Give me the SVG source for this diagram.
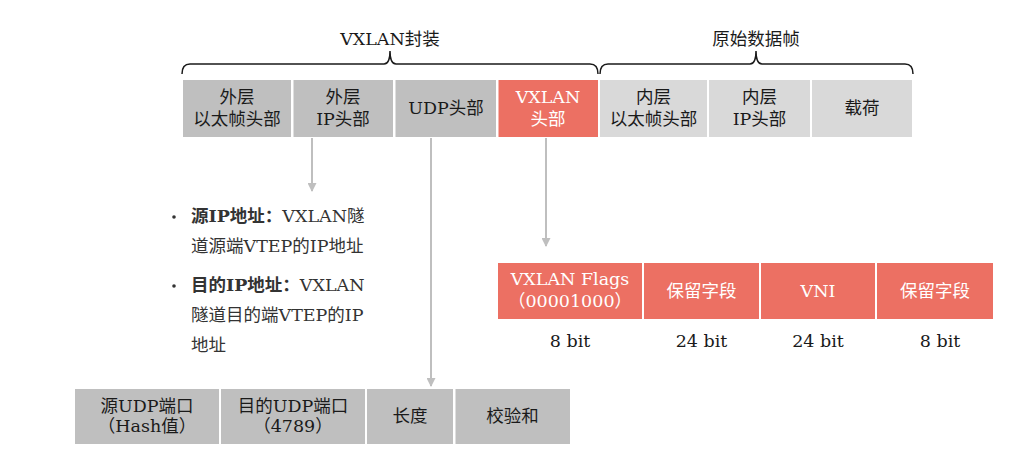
<svg xmlns="http://www.w3.org/2000/svg" width="1036" height="461" viewBox="0 0 1036 461">
<defs>
<marker id="ad" markerWidth="9" markerHeight="9" refX="4.5" refY="8" markerUnits="userSpaceOnUse" viewBox="0 0 9 9">
<path d="M0,0 L9,0 L4.5,9 Z" fill="#BFBFBF"/>
</marker>
</defs>
<style>
text{font-family:"DejaVu Serif","Noto Sans CJK SC",serif;font-size:17.5px;fill:#1a1a1a;text-anchor:middle}
.dg{fill:#BFBFBF}
.lg{fill:#D9D9D9}
.rd{fill:#EC7063}
.w{fill:#ffffff}
.bl{text-anchor:start;fill:#333333}
.b{font-weight:bold}
.brace{fill:none;stroke:#1a1a1a;stroke-width:1.5}
.conn{stroke:#BFBFBF;stroke-width:2;fill:none}
</style>
<rect width="1036" height="461" fill="#ffffff"/>

<g id="braces">
<path class="brace" d="M182,74 Q182,64 190,64 L384,64 Q390,64 390,51 Q390,64 396,64 L590,64 Q598,64 598,74"/>
<text x="390" y="45">VXLAN封装</text>
<path class="brace" d="M600,74 Q600,64 608,64 L750,64 Q756,64 756,51 Q756,64 762,64 L905,64 Q913,64 913,74"/>
<text x="756" y="45">原始数据帧</text>
</g>

<g id="outer-eth"><rect class="dg" x="183" y="80" width="108" height="57"/><text x="237" y="103">外层</text><text x="237" y="125">以太帧头部</text></g>
<g id="outer-ip"><rect class="dg" x="293.5" y="80" width="99.5" height="57"/><text x="343" y="103">外层</text><text x="343" y="125">IP头部</text></g>
<g id="udp-hdr"><rect class="dg" x="395.5" y="80" width="100.5" height="57"/><text x="446" y="114">UDP头部</text></g>
<g id="vxlan-hdr"><rect class="rd" x="498.5" y="80" width="99.5" height="57"/><text class="w" x="548" y="103">VXLAN</text><text class="w" x="548" y="125">头部</text></g>
<g id="inner-eth"><rect class="lg" x="600" y="80" width="107" height="57"/><text x="653.5" y="103">内层</text><text x="653.5" y="125">以太帧头部</text></g>
<g id="inner-ip"><rect class="lg" x="709" y="80" width="101" height="57"/><text x="759.5" y="103">内层</text><text x="759.5" y="125">IP头部</text></g>
<g id="payload"><rect class="lg" x="812" y="80" width="100" height="57"/><text x="862" y="114">载荷</text></g>

<g id="connectors">
<line class="conn" x1="312" y1="138" x2="312" y2="191" marker-end="url(#ad)"/>
<line class="conn" x1="431" y1="138" x2="431" y2="386" marker-end="url(#ad)"/>
<line class="conn" x1="546" y1="138" x2="546" y2="246" marker-end="url(#ad)"/>
</g>

<g id="ip-notes">
<circle cx="174" cy="217" r="1.8" fill="#333333"/>
<text class="bl" x="191" y="222"><tspan class="b">源IP地址：</tspan>VXLAN隧</text>
<text class="bl" x="191" y="252">道源端VTEP的IP地址</text>
<circle cx="174" cy="286" r="1.8" fill="#333333"/>
<text class="bl" x="191" y="291"><tspan class="b">目的IP地址：</tspan>VXLAN</text>
<text class="bl" x="191" y="321">隧道目的端VTEP的IP</text>
<text class="bl" x="191" y="351">地址</text>
</g>

<g id="vx-flags"><rect class="rd" x="498" y="263" width="144" height="56"/><text class="w" x="570" y="285">VXLAN Flags</text><text class="w" x="570" y="307">（00001000）</text><text x="570" y="347">8 bit</text></g>
<g id="vx-res1"><rect class="rd" x="644" y="263" width="115" height="56"/><text class="w" x="701.5" y="297">保留字段</text><text x="701.5" y="347">24 bit</text></g>
<g id="vx-vni"><rect class="rd" x="761" y="263" width="114" height="56"/><text class="w" x="818" y="297">VNI</text><text x="818" y="347">24 bit</text></g>
<g id="vx-res2"><rect class="rd" x="877" y="263" width="116" height="56"/><text class="w" x="935" y="297">保留字段</text><text x="940" y="347">8 bit</text></g>

<g id="udp-src"><rect class="dg" x="75" y="389" width="144" height="55"/><text x="147" y="412">源UDP端口</text><text x="147" y="432">（Hash值）</text></g>
<g id="udp-dst"><rect class="dg" x="221" y="389" width="144" height="55"/><text x="293" y="412">目的UDP端口</text><text x="293" y="432">（4789）</text></g>
<g id="udp-len"><rect class="dg" x="367" y="389" width="86" height="55"/><text x="410" y="422">长度</text></g>
<g id="udp-sum"><rect class="dg" x="455.5" y="389" width="114.5" height="55"/><text x="512.5" y="422">校验和</text></g>
</svg>
